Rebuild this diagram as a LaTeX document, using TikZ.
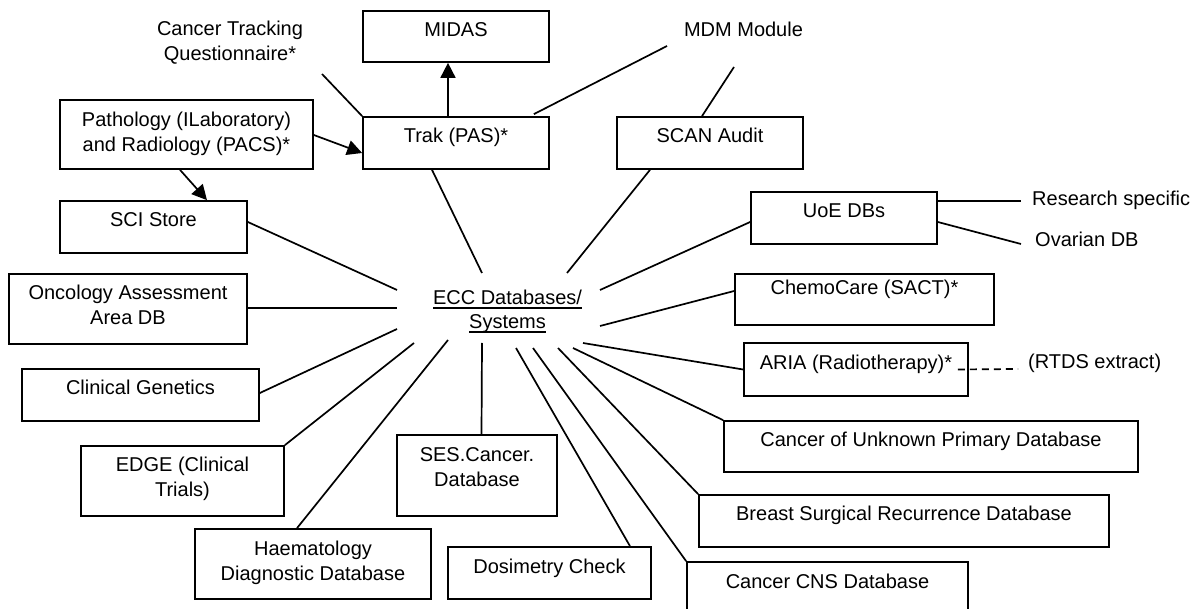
\documentclass[tikz,border=0pt]{standalone}
\usepackage{fontspec}
\setmainfont{Liberation Sans}
\usetikzlibrary{arrows.meta}
\newcommand\twol[4]{\rule{0pt}{#1pt}#3\\#4\rule[-#2pt]{0pt}{#2pt}}
\newcommand\ulx[1]{\setbox0=\hbox{#1}\rlap{\rule[-4.5pt]{\wd0}{1.8pt}}\box0}
\begin{document}
\begin{tikzpicture}[x=1pt,y=-1pt,
  every node/.style={font=\fontsize{20}{25}\selectfont, inner sep=0pt},
  box/.style={draw, line width=1.7pt},
  one/.style={text height=15pt, text depth=15pt},
  two/.style={align=center},
  conn/.style={line width=1.7pt},
  arr/.style={conn, -{Triangle[length=15pt,width=15pt]}},
]
\fill[white] (0,0) rectangle (1203,609);
\useasboundingbox (0,0) rectangle (1203,609);

% boxes
\node[box,one,minimum width=186pt,minimum height=51pt] (midas) at (456,36.5) {MIDAS};
\node[box,one,minimum width=186pt,minimum height=52pt] (trak) at (456,143) {Trak (PAS)*};
\node[box,one,minimum width=186pt,minimum height=52pt] (scan) at (710,143) {SCAN Audit};
\node[box,two,minimum width=253pt,minimum height=69pt] (path) at (186.5,134.5) {\twol{15}{5}{Pathology (ILaboratory)}{and Radiology (PACS)*}};
\node[box,one,minimum width=187pt,minimum height=52pt] (sci) at (153.5,227) {SCI Store};
\node[box,two,minimum width=238pt,minimum height=70pt] (onc) at (128,309) {\twol{15}{8}{Oncology Assessment}{Area DB}};
\node[box,one,minimum width=237pt,minimum height=52pt] (cg) at (140.5,395) {Clinical Genetics};
\node[box,two,minimum width=203pt,minimum height=70pt] (edge) at (182.5,481) {\twol{15}{8}{EDGE (Clinical}{Trials)}};
\node[box,two,minimum width=236pt,minimum height=70pt] (haem) at (313,564) {\twol{15}{8}{Haematology}{Diagnostic Database}};
\node[box,two,minimum width=160pt,minimum height=81pt] (ses) at (477,475.5) {\twol{15}{17}{SES.Cancer.}{Database}};
\node[box,one,minimum width=203pt,minimum height=52pt] (dos) at (549.5,573) {Dosimetry Check};
\node[box,one,minimum width=281pt,minimum height=52pt] (cns) at (827.5,588) {Cancer CNS Database};
\node[box,one,minimum width=410pt,minimum height=52pt] (breast) at (904,521) {Breast Surgical Recurrence Database};
\node[box,one,minimum width=414pt,minimum height=51pt] (unk) at (931,446.5) {Cancer of Unknown Primary Database};
\node[box,one,minimum width=224pt,minimum height=53pt] (aria) at (856,369.5) {ARIA (Radiotherapy)*};
\node[box,text height=15pt,text depth=25pt,minimum width=259pt,minimum height=51pt] (chemo) at (864.5,299.5) {ChemoCare (SACT)*};
\node[box,one,minimum width=186pt,minimum height=52pt] (uoe) at (844,218) {UoE DBs};

% centre
\node[align=center,font=\fontsize{20}{24}\selectfont] (ecc) at (507.5,312) {\twol{15}{6}{\ulx{ECC Databases/}}{\ulx{Systems}}};

% free labels
\node[align=center] (ctq) at (230,43.5) {\twol{15}{5}{Cancer Tracking}{Questionnaire*}};
\node[anchor=base] (mdm) at (743.5,37) {MDM Module};
\node[anchor=base west] (rs) at (1032,206) {Research specific};
\node[anchor=base west] (ov) at (1035,247) {Ovarian DB};
\node[anchor=base west] (rtds) at (1028,369) {(RTDS extract)};

% arrows
\draw[arr] ([shift={(-8,0)}]trak.north) -- ([shift={(-8,0)}]midas.south);
\draw[arr] ([shift={(0,0.5)}]path.east) -- ([shift={(0,10)}]trak.west);
\draw[arr] ([shift={(-6.5,0)}]path.south) -- ([shift={(53.5,0)}]sci.north);

% other links
\draw[conn] ([shift={(92,30.5)}]ctq.center) -- (trak.north west);
\draw[conn] ([shift={(-76.5,9)}]mdm.base) -- ([shift={(-16,-2)}]trak.north east);
\draw[conn] ([shift={(-9.5,30)}]mdm.base) -- ([shift={(-8,0)}]scan.north);
\draw[conn] ([shift={(0,-17)}]uoe.east) -- ([shift={(-11,-5)}]rs.base west);
\draw[conn] ([shift={(0,4)}]uoe.east) -- ([shift={(-14,-3)}]ov.base west);
\draw[conn, dash pattern=on 7pt off 5pt] ([shift={(-11,0)}]aria.east) -- ([shift={(-10,0)}]rtds.base west);

% spokes to centre
\draw[conn] ([shift={(-24,0)}]trak.south) -- ([shift={(-25.5,-39)}]ecc.center);
\draw[conn] ([shift={(-60,0)}]scan.south) -- ([shift={(59.5,-39)}]ecc.center);
\draw[conn] ([shift={(0,-5)}]sci.east) -- ([shift={(-110.5,-22)}]ecc.center);
\draw[conn] ([shift={(0,-1)}]onc.east) -- ([shift={(-110.5,-4)}]ecc.center);
\draw[conn] ([shift={(0,-2)}]cg.east) -- ([shift={(-110.5,17)}]ecc.center);
\draw[conn] (edge.north east) -- ([shift={(-93.5,31)}]ecc.center);
\draw[conn] ([shift={(-16,0)}]haem.north) -- ([shift={(-59.5,28)}]ecc.center);
\draw[conn] ([shift={(4.5,0)}]ses.north) -- ([shift={(-25.5,31)}]ecc.center);
\draw[conn] ([shift={(80.5,0)}]dos.north) -- ([shift={(8.5,36)}]ecc.center);
\draw[conn] (cns.north west) -- ([shift={(25.5,36)}]ecc.center);
\draw[conn] (breast.north west) -- ([shift={(50.5,36)}]ecc.center);
\draw[conn] (unk.north west) -- ([shift={(65.5,36)}]ecc.center);
\draw[conn] (aria.west) -- ([shift={(75.5,31)}]ecc.center);
\draw[conn] ([shift={(0,-8.5)}]chemo.west) -- ([shift={(92.5,14)}]ecc.center);
\draw[conn] ([shift={(0,4)}]uoe.west) -- ([shift={(92.5,-22)}]ecc.center);
\end{tikzpicture}
\end{document}
